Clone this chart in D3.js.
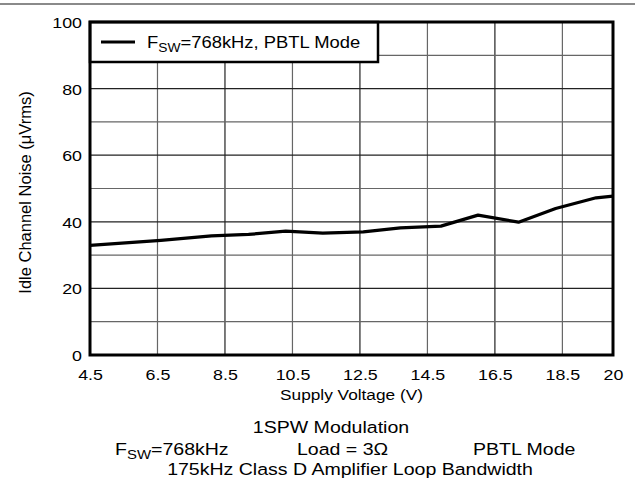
<!DOCTYPE html>
<html>
<head>
<meta charset="utf-8">
<script src="https://cdn.jsdelivr.net/npm/d3@7"></script>
<style>
  body { margin: 0; background: #fff; }
  text { font-family: "Liberation Sans", Arial, sans-serif; fill: #000; }
</style>
</head>
<body>
<div id="chart"></div>
<script>
// supply voltage (V) and idle noise (uVrms)
var voltage = [4.5, 6.6, 8.1, 9.2, 10.3, 11.4, 12.6, 13.7, 14.9, 16.0, 17.2, 18.3, 19.5, 20];
var noise   = [32.9, 34.4, 35.8, 36.2, 37.2, 36.6, 37.0, 38.2, 38.7, 42.0, 39.9, 44.0, 47.2, 47.7];

var xTicks = [4.5, 6.5, 8.5, 10.5, 12.5, 14.5, 16.5, 18.5, 20];
var yTicks = [0, 20, 40, 60, 80, 100];
var yGrid  = [10, 20, 30, 40, 50, 60, 70, 80, 90];

var W = 635, H = 479;
var margin = {top: 22, right: 22, bottom: 124, left: 90};
var width = W - margin.left - margin.right,
    height = H - margin.top - margin.bottom;
var sx = 1.15; // the original lettering is a bit wider than Arial

var svg = d3.select("#chart").append("svg")
    .attr("width", W)
    .attr("height", H);

// thin rule across the top of the page
svg.append("line")
    .attr("x1", 0).attr("x2", W)
    .attr("y1", 4).attr("y2", 4)
    .attr("stroke", "#8a8a8a")
    .attr("stroke-width", 2);

var g = svg.append("g")
    .attr("transform", "translate(" + margin.left + "," + margin.top + ")");

var x = d3.scaleLinear().domain([4.5, 20]).range([0, width]);
var y = d3.scaleLinear().domain([0, 100]).range([height, 0]);

// grid
g.append("g").selectAll("line")
    .data(xTicks.slice(1, -1))
    .enter().append("line")
    .attr("x1", function(d) { return x(d); })
    .attr("x2", function(d) { return x(d); })
    .attr("y1", 0).attr("y2", height)
    .attr("stroke", function(d, i) { return i % 2 ? "#222" : "#666"; })
    .attr("stroke-width", 1.2);

g.append("g").selectAll("line")
    .data(yGrid)
    .enter().append("line")
    .attr("x1", 0).attr("x2", width)
    .attr("y1", function(d) { return y(d); })
    .attr("y2", function(d) { return y(d); })
    .attr("stroke", function(d, i) { return i % 2 ? "#222" : "#666"; })
    .attr("stroke-width", 1.2);

// data line
var line = d3.line()
    .x(function(d, i) { return x(voltage[i]); })
    .y(function(d) { return y(d); });

g.append("path")
    .datum(noise)
    .attr("d", line)
    .attr("fill", "none")
    .attr("stroke", "#000")
    .attr("stroke-width", 3.2)
    .attr("stroke-linejoin", "round");

// legend
var leg = g.append("g");
leg.append("rect")
    .attr("x", 0).attr("y", 0)
    .attr("width", 288).attr("height", 40)
    .attr("fill", "#fff")
    .attr("stroke", "#000")
    .attr("stroke-width", 2.5);
leg.append("line")
    .attr("x1", 11).attr("x2", 45)
    .attr("y1", 20).attr("y2", 20)
    .attr("stroke", "#000")
    .attr("stroke-width", 3.2);
var lt = leg.append("text")
    .attr("transform", "translate(57,26) scale(" + sx + ",1)")
    .style("font-size", "16px");
lt.append("tspan").text("F");
lt.append("tspan").attr("dy", 4).style("font-size", "12px").text("SW");
lt.append("tspan").attr("dy", -4).text("=768kHz, PBTL Mode");

// frame
g.append("rect")
    .attr("width", width).attr("height", height)
    .attr("fill", "none")
    .attr("stroke", "#000")
    .attr("stroke-width", 3);

// axes (labels only, the frame is the axis line)
var xAxis = g.append("g")
    .attr("transform", "translate(0," + height + ")")
    .attr("font-family", null)
    .call(d3.axisBottom(x).tickValues(xTicks).tickSize(0).tickPadding(0)
        .tickFormat(function(d) { return d === 20 ? "20" : d3.format(".1f")(d); }));
xAxis.select(".domain").remove();
xAxis.attr("font-family", null);
xAxis.selectAll("text")
    .attr("y", 0).attr("dy", null)
    .attr("transform", "translate(0,25) scale(" + sx + ",1)")
    .style("font-size", "15.5px")
    .attr("fill", "#000");

var yAxis = g.append("g")
    .call(d3.axisLeft(y).tickValues(yTicks).tickSize(0).tickPadding(0));
yAxis.select(".domain").remove();
yAxis.attr("font-family", null);
yAxis.selectAll("text")
    .attr("x", 0).attr("dy", null)
    .attr("transform", "translate(-8,5.5) scale(" + sx + ",1)")
    .style("font-size", "15.5px")
    .attr("fill", "#000");

// axis titles
svg.append("text")
    .attr("transform", "translate(" + (margin.left + width / 2) + ",400) scale(" + sx + ",1)")
    .attr("text-anchor", "middle")
    .style("font-size", "15px")
    .text("Supply Voltage (V)");

svg.append("text")
    .attr("transform", "translate(31," + (margin.top + height / 2 + 4) + ") rotate(-90)")
    .attr("text-anchor", "middle")
    .style("font-size", "16.5px")
    .text("Idle Channel Noise (\u03bcVrms)");

// conditions under the chart
var foot = svg.append("g").style("font-size", "17px");
foot.append("text")
    .attr("transform", "translate(331,433) scale(" + sx + ",1)")
    .attr("text-anchor", "middle")
    .text("1SPW Modulation");
var f2 = foot.append("text")
    .attr("transform", "translate(115,455) scale(" + sx + ",1)");
f2.append("tspan").text("F");
f2.append("tspan").attr("dy", 4).style("font-size", "13px").text("SW");
f2.append("tspan").attr("dy", -4).text("=768kHz");
foot.append("text")
    .attr("transform", "translate(297,455) scale(" + sx + ",1)")
    .text("Load = 3\u03a9");
foot.append("text")
    .attr("transform", "translate(473,455) scale(" + sx + ",1)")
    .text("PBTL Mode");
foot.append("text")
    .attr("transform", "translate(350,475) scale(" + sx + ",1)")
    .attr("text-anchor", "middle")
    .text("175kHz Class D Amplifier Loop Bandwidth");
</script>
</body>
</html>
